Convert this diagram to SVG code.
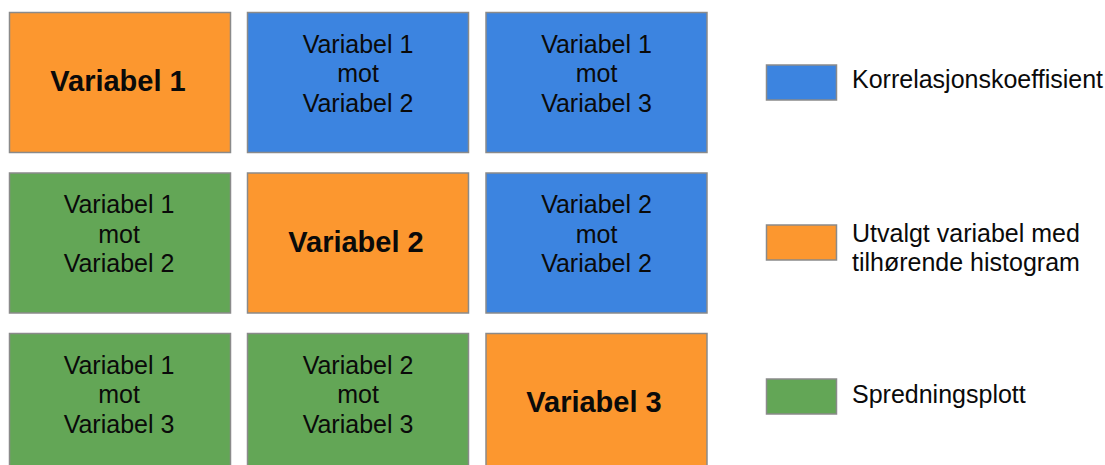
<svg xmlns="http://www.w3.org/2000/svg" width="1105" height="465" viewBox="0 0 1105 465">
  <style>
    .box { stroke: #8a8a8a; stroke-width: 1.5; }
    .orange { fill: #fc972f; }
    .blue { fill: #3c84e0; }
    .green { fill: #63a656; }
    .t { font-family: "Liberation Sans", Arial, sans-serif; font-size: 25px; fill: #0a0a0a; text-anchor: middle; }
    .tb { font-family: "Liberation Sans", Arial, sans-serif; font-size: 29px; font-weight: bold; fill: #0a0a0a; text-anchor: middle; }
    .lg { font-family: "Liberation Sans", Arial, sans-serif; font-size: 25px; fill: #0a0a0a; }
  </style>
  <rect width="1105" height="465" fill="#ffffff"/>

  <!-- Row 1 -->
  <g id="v1">
    <rect class="box orange" x="9.5" y="12.5" width="221" height="140"/>
    <text class="tb" x="118" y="91">Variabel 1</text>
  </g>
  <g id="v1-v2-corr">
    <rect class="box blue" x="247.5" y="12.5" width="221" height="140"/>
    <text class="t" x="358" y="52.5">Variabel 1</text>
    <text class="t" x="358" y="82">mot</text>
    <text class="t" x="358" y="111.5">Variabel 2</text>
  </g>
  <g id="v1-v3-corr">
    <rect class="box blue" x="486" y="12.5" width="221" height="140"/>
    <text class="t" x="596.5" y="52.5">Variabel 1</text>
    <text class="t" x="596.5" y="82">mot</text>
    <text class="t" x="596.5" y="111.5">Variabel 3</text>
  </g>

  <!-- Row 2 -->
  <g id="v1-v2-scatter">
    <rect class="box green" x="9.5" y="173" width="221" height="140"/>
    <text class="t" x="119" y="213">Variabel 1</text>
    <text class="t" x="119" y="242.5">mot</text>
    <text class="t" x="119" y="272">Variabel 2</text>
  </g>
  <g id="v2">
    <rect class="box orange" x="247.5" y="173" width="221" height="140"/>
    <text class="tb" x="356" y="251.5">Variabel 2</text>
  </g>
  <g id="v2-v2-corr">
    <rect class="box blue" x="486" y="173" width="221" height="140"/>
    <text class="t" x="596.5" y="213">Variabel 2</text>
    <text class="t" x="596.5" y="242.5">mot</text>
    <text class="t" x="596.5" y="272">Variabel 2</text>
  </g>

  <!-- Row 3 -->
  <g id="v1-v3-scatter">
    <rect class="box green" x="9.5" y="333.5" width="221" height="140"/>
    <text class="t" x="119" y="373.5">Variabel 1</text>
    <text class="t" x="119" y="403">mot</text>
    <text class="t" x="119" y="432.5">Variabel 3</text>
  </g>
  <g id="v2-v3-scatter">
    <rect class="box green" x="247.5" y="333.5" width="221" height="140"/>
    <text class="t" x="358" y="373.5">Variabel 2</text>
    <text class="t" x="358" y="403">mot</text>
    <text class="t" x="358" y="432.5">Variabel 3</text>
  </g>
  <g id="v3">
    <rect class="box orange" x="486" y="333.5" width="221" height="140"/>
    <text class="tb" x="594" y="412">Variabel 3</text>
  </g>

  <!-- Legend -->
  <g id="legend-corr">
    <rect class="box blue" x="766.5" y="65" width="70" height="35"/>
    <text class="lg" x="852" y="87.5">Korrelasjonskoeffisient</text>
  </g>
  <g id="legend-selected">
    <rect class="box orange" x="766.5" y="225" width="70" height="35"/>
    <text class="lg" x="852" y="241.5">Utvalgt variabel med</text>
    <text class="lg" x="852" y="271">tilhørende histogram</text>
  </g>
  <g id="legend-scatter">
    <rect class="box green" x="766.5" y="379" width="70" height="35"/>
    <text class="lg" x="852" y="402.5">Spredningsplott</text>
  </g>

  <!-- no connectors in this figure -->
  <g id="connectors"/>
</svg>
